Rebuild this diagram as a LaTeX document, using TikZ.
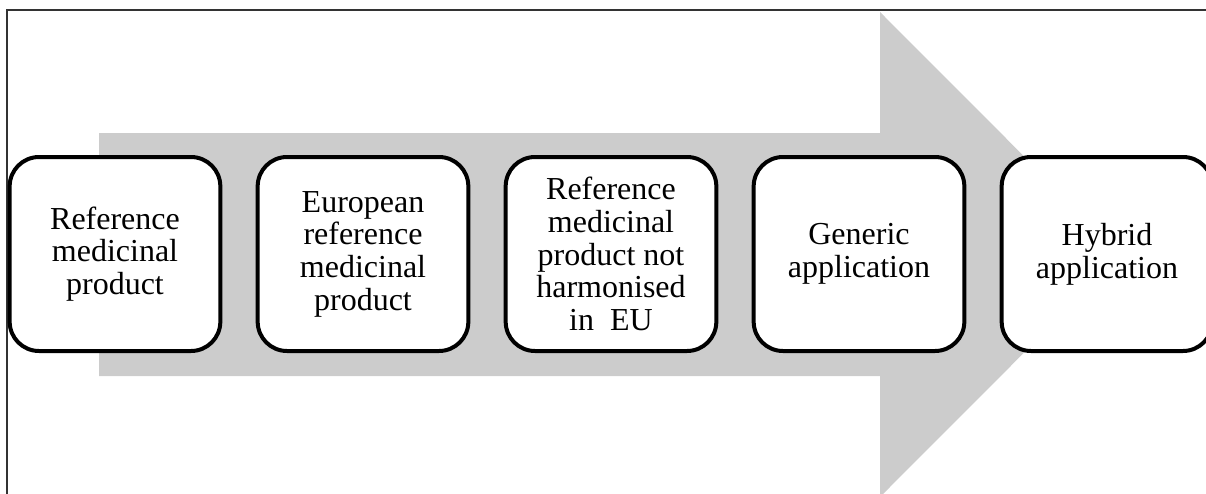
\documentclass[tikz,border=0pt]{standalone}
\usepackage{fontspec}
\setmainfont{Liberation Serif}
\usetikzlibrary{positioning}

\begin{document}
\begin{tikzpicture}[
    x=0.75pt, y=-0.75pt,
    stage/.style={draw=black, fill=white, line width=3pt, rounded corners=22pt,
        minimum width=158pt, minimum height=145.5pt, outer sep=0pt,
        align=center, font=\fontsize{24}{24.5}\selectfont},
    node distance=28pt,
    ]

    % ==========================================
    % Page frame and grey process arrow
    % ==========================================
    \clip (0,0) rectangle (1206,493);
    \useasboundingbox (0,0) rectangle (1206,493);
    \draw[line width=1.1pt, black!80] (7,10) rectangle (1300,600);

    \fill[black!20] (99,133) -- (880,133) -- (880,12) -- (1122,254.5)
        -- (880,497) -- (880,376) -- (99,376) -- cycle;

    % ==========================================
    % Stages along the arrow
    % ==========================================
    \node[stage] (refprod) at (115,254) {Reference\\medicinal\\product};
    \node[stage, right=of refprod] (europe) {European\\reference\\medicinal\\product};
    \node[stage, right=of europe] (nonharm) {Reference\\medicinal\\product not\\harmonised\\in \ EU};
    \node[stage, right=of nonharm] (generic) {Generic\\application};
    \node[stage, right=of generic] (hybrid) {Hybrid\\application};

\end{tikzpicture}
\end{document}
